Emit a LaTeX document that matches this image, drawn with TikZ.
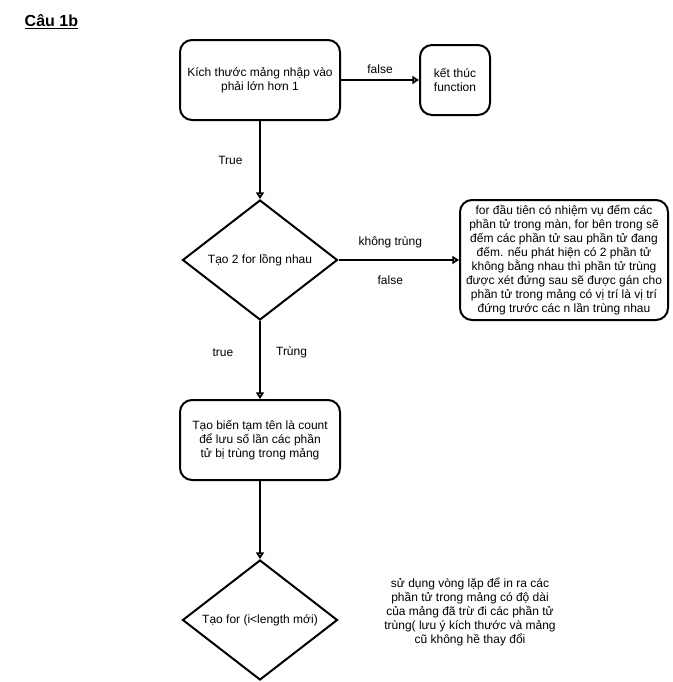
\documentclass[tikz,border=0pt]{standalone}
\usepackage{fontspec}
\setmainfont{Liberation Sans}
\usetikzlibrary{arrows.meta,shapes.geometric}

\begin{document}
\begin{tikzpicture}[x=0.75pt, y=-0.75pt, font=\fontsize{9}{10.5}\selectfont,
	box/.style={draw, line width=1.5pt, rounded corners=9pt, align=center, inner sep=2pt},
	choice/.style={draw, diamond, aspect=1.3, line width=1.5pt, inner sep=1pt, minimum width=116.25pt, minimum height=90pt},
	flow/.style={line width=1.5pt, -{Triangle[open, length=5pt, width=6pt]}}]
		\useasboundingbox (0,0) rectangle (672,682);
		\node (title)[anchor=west, font=\fontsize{12}{14}\selectfont\bfseries] at (20,22) {\underline{Câu 1b}};
		\node (size)[box, minimum width=120pt, minimum height=60pt] at (260,80) {Kích thước mảng nhập vào\\phải lớn hơn 1};
		\node (stop)[box, minimum width=52.5pt, minimum height=52.5pt] at (455,80) {kết thúc\\function};
		\node (loops)[choice] at (260,260) {Tạo 2 for lồng nhau};
		\node (note)[box, minimum width=156pt, minimum height=90pt] at (564,260) {for đầu tiên có nhiệm vụ đếm các\\phần tử trong màn, for bên trong sẽ\\đếm các phần tử sau phần tử đang\\đếm. nếu phát hiện có 2 phần tử\\không bằng nhau thì phần tử trùng\\được xét đứng sau sẽ được gán cho\\phần tử trong mảng có vị trí là vị trí\\đứng trước các n lần trùng nhau};
		\node (count)[box, minimum width=120pt, minimum height=60pt] at (260,440) {Tạo biến tạm tên là count\\để lưu số lần các phần\\tử bị trùng trong mảng};
		\node (print)[choice] at (260,620) {Tạo for (i<length mới)};
		\node (remark)[align=center] at (470,612) {sử dụng vòng lặp để in ra các\\phần tử trong mảng có độ dài\\của mảng đã trừ đi các phần tử\\trùng( lưu ý kích thước và mảng\\cũ không hề thay đổi};
		\draw [flow](size) -- node [midway, above=1pt]{false}(stop);
		\draw [flow](size) -- node [midway, left=9pt]{True}(loops);
		\draw [flow](loops) -- node [pos=0.43, above=5pt]{không trùng} node [pos=0.43, below=8pt]{false}(note);
		\draw [flow](loops) -- node [pos=0.4, left=16pt]{true} node [pos=0.4, right=8pt]{Trùng}(count);
		\draw [flow](count) -- (print);
	\end{tikzpicture}
\end{document}
